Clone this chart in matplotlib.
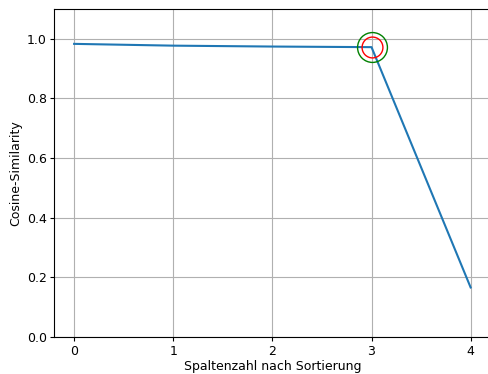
import matplotlib
matplotlib.use("Agg")
import matplotlib.pyplot as plt

# Cosine similarity per number of columns after sorting
columns = [0, 1, 2, 3, 4]
similarity = [0.983, 0.977, 0.974, 0.972, 0.166]

# selected point
best_x = 3
best_y = 0.972

fig = plt.figure(figsize=(4.89, 3.74), dpi=100)
ax = fig.add_axes([0.111, 0.099, 0.892, 0.877])

ax.plot(columns, similarity, color="#1f77b4")
ax.plot(best_x, best_y, "o", markersize=15, markerfacecolor="none", markeredgecolor="red")
ax.plot(best_x, best_y, "o", markersize=21.5, markerfacecolor="none", markeredgecolor="green")

ax.set_ylim(0, 1.1)
ax.set_xticks(columns)
ax.grid(True)
ax.set_xlabel("Spaltenzahl nach Sortierung", fontsize=9, labelpad=2)
ax.set_ylabel("Cosine-Similarity", fontsize=9, labelpad=3)
ax.tick_params(labelsize=9, length=3, pad=2.5)
# right edge is cut off in the original image
ax.spines["right"].set_visible(False)

fig.savefig("out.png")
